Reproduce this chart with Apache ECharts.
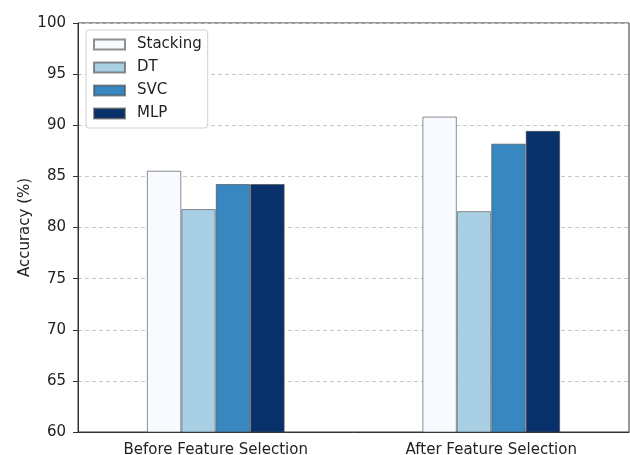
<!DOCTYPE html>
<html>
<head>
<meta charset="utf-8">
<script src="https://cdn.jsdelivr.net/npm/echarts@6/dist/echarts.min.js"></script>
<style>
  html, body { margin: 0; padding: 0; background: #fff; }
  #main { width: 630px; height: 455px; }
</style>
</head>
<body>
<div id="main"></div>
<script>
// categories and values
var stages = ['Before Feature Selection', 'After Feature Selection'];
var stacking = [85.55, 90.85];
var dt = [81.8, 81.6];
var svc = [84.25, 88.2];
var mlp = [84.25, 89.45];
var yTicks = [60, 65, 70, 75, 80, 85, 90, 95, 100];

var chart = echarts.init(document.getElementById('main'));

function bar(name, data, color) {
  return {
    name: name,
    type: 'bar',
    data: data,
    barGap: '0%',
    barCategoryGap: '50%',
    itemStyle: {
      color: color,
      borderColor: 'rgba(70,70,70,0.6)',
      borderWidth: 1
    }
  };
}

var font = 'DejaVu Sans';

var option = {
  animation: false,
  textStyle: { fontFamily: font },
  grid: {
    left: 78, right: 1, top: 23, bottom: 23,
    outerBoundsMode: 'none',
    containLabel: false,
    show: true, borderColor: '#333', borderWidth: 1
  },
  legend: {
    orient: 'vertical',
    left: 86, top: 30,
    itemWidth: 31, itemHeight: 10, itemGap: 8,
    padding: [7, 6, 7, 7],
    backgroundColor: '#fff',
    borderColor: '#d0d0d0', borderWidth: 1, borderRadius: 3,
    icon: 'rect',
    textStyle: { fontSize: 15, lineHeight: 15, color: '#222', fontFamily: font, padding: [0, 0, 0, 7] },
    data: ['Stacking', 'DT', 'SVC', 'MLP']
  },
  xAxis: {
    type: 'category',
    data: stages,
    axisLine: { lineStyle: { color: '#333', width: 1 } },
    axisTick: { alignWithLabel: true, length: 5, lineStyle: { color: '#333' } },
    axisLabel: { fontSize: 15, color: '#222', margin: 11, fontFamily: font },
    splitLine: { show: false }
  },
  yAxis: {
    type: 'value',
    min: yTicks[0], max: yTicks[yTicks.length - 1], interval: 5,
    name: 'Accuracy (%)',
    nameLocation: 'middle',
    nameGap: 45,
    nameMoveOverlap: false,
    nameTextStyle: { fontSize: 15, color: '#222', fontFamily: font },
    axisLine: { show: true, lineStyle: { color: '#333', width: 1 } },
    axisTick: { show: true, length: 5, lineStyle: { color: '#333' } },
    axisLabel: { fontSize: 15, color: '#222', margin: 12, fontFamily: font },
    splitLine: { show: true, lineStyle: { type: [4, 3], color: '#c8c8c8', width: 1 } }
  },
  series: [
    bar('Stacking', stacking, '#f7fbff'),
    bar('DT', dt, '#a9cfe5'),
    bar('SVC', svc, '#3887c0'),
    bar('MLP', mlp, '#08306b')
  ]
};

chart.setOption(option);
</script>
</body>
</html>
